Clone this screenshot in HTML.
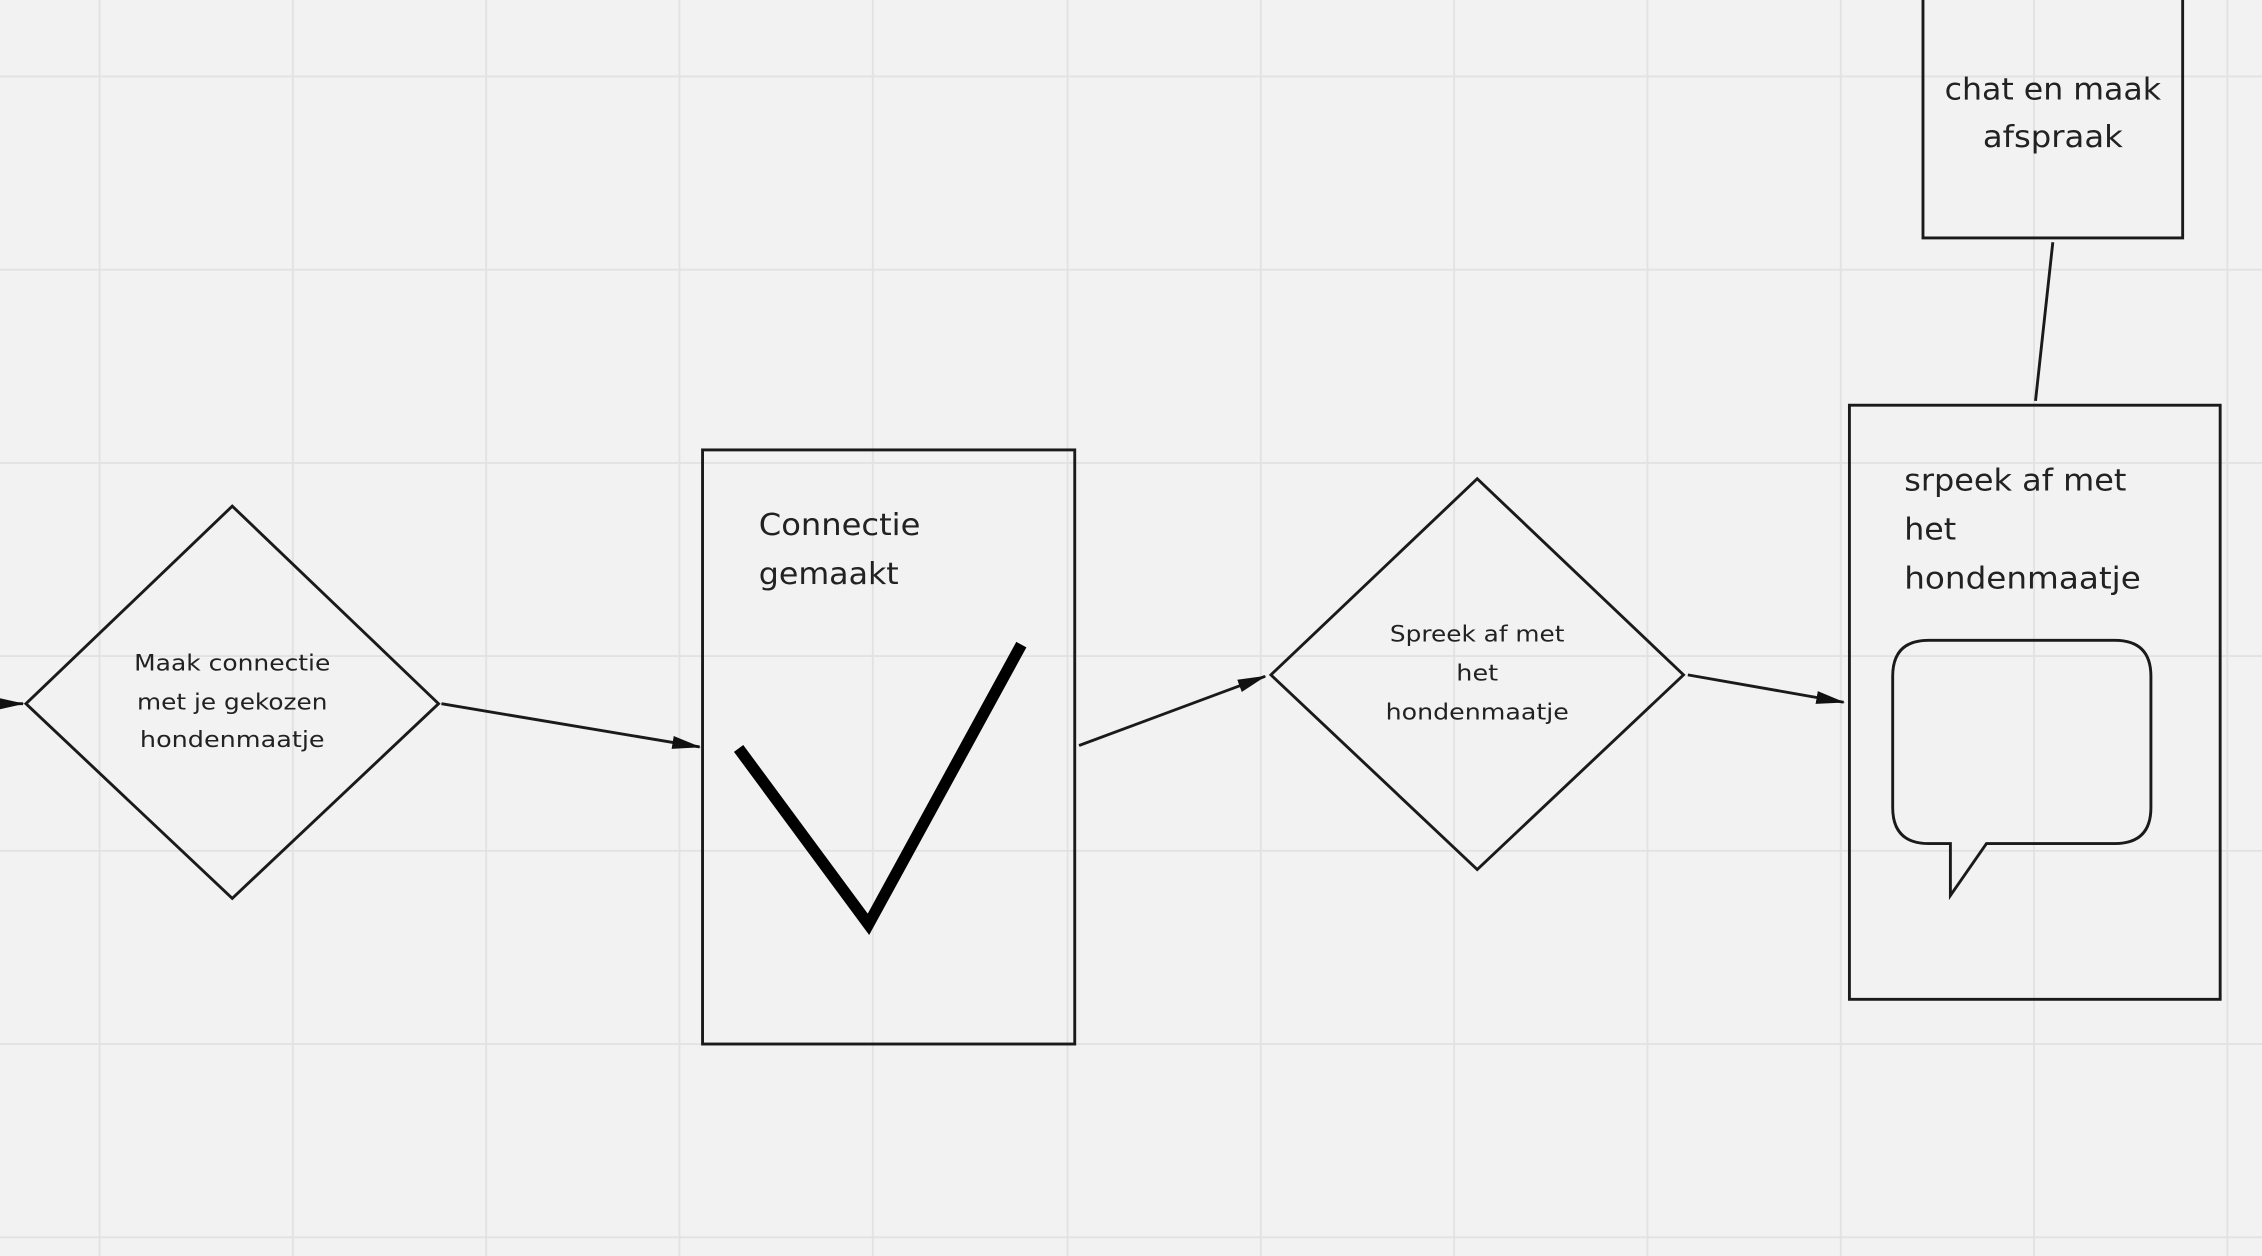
<!DOCTYPE html>
<html><head><meta charset="utf-8"><style>
html,body{margin:0;padding:0;background:#f2f2f2;overflow:hidden}
svg{display:block}
text{font-family:"DejaVu Sans","Liberation Sans",sans-serif;fill:#222}
</style></head><body>
<svg width="2262" height="1256" viewBox="0 0 1568 871" preserveAspectRatio="none" xmlns="http://www.w3.org/2000/svg">
<defs>
<marker id="a" markerWidth="20" markerHeight="10" refX="19" refY="5" orient="auto" markerUnits="userSpaceOnUse">
<path d="M0,0.5 L20,5 L0,9.5 z" fill="#111"/></marker>
</defs>
<rect width="1568" height="871" fill="#f2f2f2"/>
<g stroke="#e2e2e2" stroke-width="1.3">
<line x1="69" y1="0" x2="69" y2="871"/><line x1="203" y1="0" x2="203" y2="871"/><line x1="337" y1="0" x2="337" y2="871"/><line x1="471" y1="0" x2="471" y2="871"/><line x1="605" y1="0" x2="605" y2="871"/><line x1="740" y1="0" x2="740" y2="871"/><line x1="874" y1="0" x2="874" y2="871"/><line x1="1008" y1="0" x2="1008" y2="871"/><line x1="1142" y1="0" x2="1142" y2="871"/><line x1="1276" y1="0" x2="1276" y2="871"/><line x1="1410" y1="0" x2="1410" y2="871"/><line x1="1544" y1="0" x2="1544" y2="871"/>
<line x1="0" y1="53" x2="1568" y2="53"/><line x1="0" y1="187" x2="1568" y2="187"/><line x1="0" y1="321" x2="1568" y2="321"/><line x1="0" y1="455" x2="1568" y2="455"/><line x1="0" y1="590" x2="1568" y2="590"/><line x1="0" y1="724" x2="1568" y2="724"/><line x1="0" y1="858" x2="1568" y2="858"/>
</g>
<g fill="none" stroke="#1a1a1a" stroke-width="2">
<line x1="0" y1="488" x2="16" y2="488" marker-end="url(#a)"/>
<polygon points="18,488 161,351 304,488 161,623"/>
<line x1="306" y1="488" x2="485" y2="518" marker-end="url(#a)"/>
<rect x="487" y="312" width="258" height="412"/>
<line x1="748" y1="517" x2="877" y2="469" marker-end="url(#a)"/>
<polygon points="881,468 1024,332 1167,468 1024,603"/>
<line x1="1170" y1="468" x2="1278" y2="487" marker-end="url(#a)"/>
<rect x="1282" y="281" width="257" height="412"/>
<path d="M1337,444 H1466 Q1491,444 1491,469 V560 Q1491,585 1466,585 H1377 L1352,621 V585 H1337 Q1312,585 1312,560 V469 Q1312,444 1337,444 Z"/>
<line x1="1411" y1="278" x2="1423" y2="168"/>
<rect x="1333" y="-2" width="180" height="167"/>
</g>
<polyline points="512,519 602,641 708,447" fill="none" stroke="#000" stroke-width="8"/>
<g font-size="15.5" text-anchor="middle">
<text x="161" y="465" textLength="136" lengthAdjust="spacingAndGlyphs">Maak connectie</text>
<text x="161" y="492" textLength="132" lengthAdjust="spacingAndGlyphs">met je gekozen</text>
<text x="161" y="518" textLength="128" lengthAdjust="spacingAndGlyphs">hondenmaatje</text>
<text x="1024" y="445" textLength="121" lengthAdjust="spacingAndGlyphs">Spreek af met</text>
<text x="1024" y="472" textLength="29" lengthAdjust="spacingAndGlyphs">het</text>
<text x="1024" y="499" textLength="127" lengthAdjust="spacingAndGlyphs">hondenmaatje</text>
</g>
<g font-size="21">
<text x="526" y="371" textLength="112" lengthAdjust="spacingAndGlyphs">Connectie</text>
<text x="526" y="405" textLength="97" lengthAdjust="spacingAndGlyphs">gemaakt</text>
<text x="1320" y="340" textLength="154" lengthAdjust="spacingAndGlyphs">srpeek af met</text>
<text x="1320" y="374" textLength="36" lengthAdjust="spacingAndGlyphs">het</text>
<text x="1320" y="408" textLength="164" lengthAdjust="spacingAndGlyphs">hondenmaatje</text>
<text x="1423" y="69" text-anchor="middle" textLength="150" lengthAdjust="spacingAndGlyphs">chat en maak</text>
<text x="1423" y="102" text-anchor="middle" textLength="97" lengthAdjust="spacingAndGlyphs">afspraak</text>
</g>
</svg>
</body></html>
